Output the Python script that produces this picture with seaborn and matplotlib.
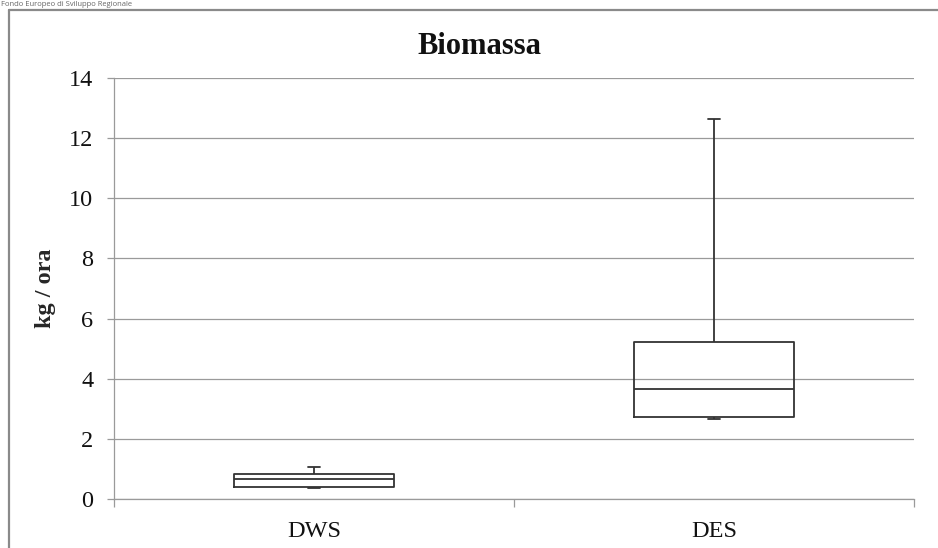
import matplotlib
matplotlib.use("Agg")
import matplotlib.pyplot as plt
import seaborn as sns
import pandas as pd
from matplotlib.lines import Line2D

# Data: five-number summaries (min, Q1, median, Q3, max)
categories = ["DWS", "DES"]
dws_values = [0.38, 0.41, 0.655, 0.83, 1.07]
des_values = [2.67, 2.74, 3.66, 5.23, 12.64]
y_ticks = [0, 2, 4, 6, 8, 10, 12, 14]

df = pd.DataFrame({
    "group": [categories[0]] * len(dws_values) + [categories[1]] * len(des_values),
    "value": dws_values + des_values,
})

sns.set_theme(style="white")
plt.rcParams["font.family"] = ["Liberation Serif", "DejaVu Serif"]

fig = plt.figure(figsize=(9.38, 5.48), dpi=100)
ax = fig.add_axes([114 / 938, 1 - 499 / 548, 800 / 938, (499 - 78) / 548])

line_col = "#333333"
sns.boxplot(
    data=df, x="group", y="value", order=categories, ax=ax,
    whis=(0, 100), width=0.4, fill=False, color=line_col, linewidth=1.3,
    linecolor=line_col, showfliers=False,
)

# Narrow caps
for line in ax.lines:
    xd = list(line.get_xdata())
    yd = list(line.get_ydata())
    if len(xd) == 2 and yd[0] == yd[1] and 0.05 < abs(xd[1] - xd[0]) < 0.25:
        c = (xd[0] + xd[1]) / 2
        line.set_xdata([c - 0.015, c + 0.015])

ax.set_xlim(-0.5, 1.5)
ax.set_ylim(0, 14)
ax.set_yticks(y_ticks)
ax.set_yticklabels([str(t) for t in y_ticks], fontsize=17.5)
ax.set_xticks([0, 1])
ax.set_xticklabels(categories, fontsize=17.5)
ax.set_xlabel("")
ax.set_ylabel("kg / ora", fontsize=17.5, fontweight="bold", labelpad=9)

grid_col = "#9a9a9a"
ax.yaxis.grid(True, color=grid_col, linewidth=0.9)
ax.xaxis.grid(False)
ax.set_axisbelow(True)
for s in ["top", "right"]:
    ax.spines[s].set_visible(False)
for s in ["left", "bottom"]:
    ax.spines[s].set_color(grid_col)
    ax.spines[s].set_linewidth(0.9)

ax.tick_params(axis="y", which="major", left=True, length=5, width=0.9, color=grid_col, pad=10, labelcolor="#111111")
ax.tick_params(axis="x", which="major", bottom=False, pad=10, labelcolor="#111111")
# category boundary ticks
ax.set_xticks([-0.5, 0.5, 1.5], minor=True)
ax.tick_params(axis="x", which="minor", bottom=True, length=6, width=0.9, color=grid_col)

fig.text(479 / 938, 1 - 46 / 548, "Biomassa", ha="center", va="center",
         fontsize=22, fontweight="bold", color="#111111")

# Outer frame
fig.add_artist(Line2D([9 / 938, 9 / 938], [0, 1 - 10 / 548], transform=fig.transFigure,
                      color="#8a8a8a", linewidth=1.6))
fig.add_artist(Line2D([9 / 938, 1], [1 - 10 / 548, 1 - 10 / 548], transform=fig.transFigure,
                      color="#8a8a8a", linewidth=1.6))

fig.text(1 / 938, 1 - 1 / 548, "Fondo Europeo di Sviluppo Regionale", ha="left", va="top",
         fontsize=5.5, color="#666666", family=["Open Sans", "DejaVu Sans"])

fig.savefig("out.png", dpi=100)
